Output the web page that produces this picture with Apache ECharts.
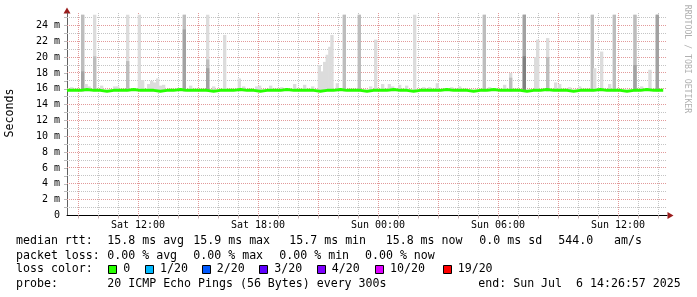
<!DOCTYPE html>
<html><head><meta charset="utf-8">
<script src="https://cdn.jsdelivr.net/npm/echarts@6/dist/echarts.min.js"></script>
<style>html,body{margin:0;padding:0;background:#fff}#c{width:697px;height:297px}</style>
</head><body><div id="c"></div>
<script>
// ---------------- DATA ----------------
// time axis: hours since Sat 00:00
const startHour = 8 + 26 / 60 + 57 / 3600;   // Sat 08:26:57
const endHour = startHour + 30;              // Sun 14:26:57
const xLabelHours = [12, 18, 24, 30, 36];
const xLabelTexts = ['Sat 12:00', 'Sat 18:00', 'Sun 00:00', 'Sun 06:00', 'Sun 12:00'];
const hourGrid = [9,10,11,12,13,14,15,16,17,18,19,20,21,22,23,24,25,26,27,28,29,30,31,32,33,34,35,36,37,38];
const yLabelValues = [0, 2, 4, 6, 8, 10, 12, 14, 16, 18, 20, 22, 24];
const msGrid = [1,2,3,4,5,6,7,8,9,10,11,12,13,14,15,16,17,18,19,20,21,22,23,24,25];
const yMax = 25.57;

// smoke (ping distribution) per 10-minute bin: start hour and top of each shade band (ms), 0 = none
const smokeHour   = [8.599, 9.149, 9.324, 9.474, 9.749, 10.099, 10.749, 10.899, 11.399, 11.984, 12.149, 12.449, 12.599, 12.749, 12.899, 13.049, 13.199, 14.234, 14.549, 15.399, 15.699, 16.249, 16.984, 17.2, 17.849, 17.999, 18.549, 19.099, 19.749, 20.249, 20.649, 20.984, 21.114, 21.249, 21.379, 21.509, 21.614, 21.884, 22.234, 22.984, 23.549, 23.799, 24.149, 24.484, 24.649, 24.999, 25.349, 25.749, 26.2, 26.5, 26.884, 27.6, 28.0, 29.234, 29.5, 30.249, 30.549, 31.234, 31.799, 31.9, 32.399, 32.8, 33.0, 33.5, 34.0, 34.634, 34.75, 35.099, 35.5, 35.734, 36.764, 37.1, 37.514, 37.884];
const smokeLight  = [16.2, 25.35, 16.6, 16.3, 25.35, 16.4, 16.3, 16.3, 25.35, 25.35, 17.1, 16.6, 17.0, 16.8, 17.3, 16.4, 16.5, 25.35, 16.4, 25.35, 16.3, 22.8, 17.3, 16.3, 16.3, 16.4, 16.4, 16.2, 16.6, 16.5, 16.3, 19.0, 18.2, 19.4, 20.3, 21.3, 22.8, 16.7, 25.35, 25.35, 16.3, 22.2, 16.6, 16.6, 16.3, 16.5, 16.4, 25.35, 16.2, 16.2, 16.7, 16.2, 16.3, 25.35, 16.2, 16.5, 18.0, 25.35, 20.0, 22.2, 22.4, 16.8, 16.6, 16.2, 16.3, 25.35, 18.6, 20.7, 16.6, 25.35, 25.35, 16.3, 18.4, 25.35];
const smokeMedium = [0, 25.35, 0, 0, 20.1, 0, 0, 0, 19.5, 0, 0, 0, 0, 0, 0, 0, 0, 25.35, 0, 19.7, 0, 0, 0, 0, 0, 0, 0, 0, 0, 0, 0, 0, 0, 0, 0, 0, 0, 0, 25.35, 25.35, 0, 0, 0, 0, 0, 0, 0, 0, 0, 0, 0, 0, 0, 25.35, 0, 0, 17.4, 25.35, 0, 0, 20.0, 0, 0, 0, 0, 25.35, 0, 0, 0, 25.35, 25.35, 0, 0, 25.35];
const smokeDark   = [0, 18.2, 0, 0, 0, 0, 0, 0, 0, 0, 0, 0, 0, 0, 0, 0, 0, 23.5, 0, 18.6, 0, 0, 0, 0, 0, 0, 0, 0, 0, 0, 0, 0, 0, 0, 0, 0, 0, 0, 0, 0, 0, 0, 0, 0, 0, 0, 0, 0, 0, 0, 0, 0, 0, 0, 0, 0, 0, 25.35, 0, 0, 0, 0, 0, 0, 0, 0, 0, 0, 0, 0, 19.0, 0, 0, 25.35];
const smokeDarker = [0, 0, 0, 0, 0, 0, 0, 0, 0, 0, 0, 0, 0, 0, 0, 0, 0, 0, 0, 0, 0, 0, 0, 0, 0, 0, 0, 0, 0, 0, 0, 0, 0, 0, 0, 0, 0, 0, 0, 0, 0, 0, 0, 0, 0, 0, 0, 0, 0, 0, 0, 0, 0, 0, 0, 0, 0, 20.1, 0, 0, 0, 0, 0, 0, 0, 0, 0, 0, 0, 0, 0, 0, 0, 0];
const smokeBase = 15.7;
const smokeBinHours = 1 / 6;

// median rtt, one value per 20 minutes from the start
const medianStepHours = 1 / 3;
const medianEndHour = 38.26;
const medianRtt = [15.8,15.8,15.9,15.8,15.8,15.7,15.8,15.8,15.8,15.9,
  15.8,15.8,15.8,15.7,15.8,15.8,15.9,15.8,15.8,15.8,
  15.8,15.7,15.8,15.8,15.8,15.9,15.8,15.8,15.7,15.8,
  15.8,15.8,15.9,15.8,15.8,15.8,15.8,15.7,15.8,15.8,
  15.9,15.8,15.8,15.8,15.7,15.8,15.8,15.8,15.9,15.8,
  15.8,15.7,15.8,15.8,15.8,15.8,15.9,15.8,15.8,15.8,
  15.7,15.8,15.8,15.9,15.8,15.8,15.8,15.8,15.7,15.8,
  15.8,15.9,15.8,15.8,15.8,15.7,15.8,15.8,15.8,15.9,
  15.8,15.8,15.8,15.7,15.8,15.8,15.9,15.8,15.8,15.8];

// legend texts
const row1Texts = ['median rtt:', '15.8 ms avg', '15.9 ms max', '15.7 ms min', '15.8 ms now', '0.0 ms sd', '544.0', 'am/s'];
const row2Texts = ['packet loss:', '0.00 % avg', '0.00 % max', '0.00 % min', '0.00 % now'];
const row3Title = 'loss color:';
const lossLabels = ['0', '1/20', '2/20', '3/20', '4/20', '10/20', '19/20'];
const row4Texts = ['probe:', '20 ICMP Echo Pings (56 Bytes) every 300s', 'end: Sun Jul  6 14:26:57 2025'];
const yAxisTitle = 'Seconds';
const watermark = 'RRDTOOL / TOBI OETIKER';

// ---------------- STYLE / LAYOUT ----------------
const MONO = "'DejaVu Sans Mono', monospace";
const lossColors = ['#26ff00', '#00b8ff', '#0059ff', '#5e00ff', '#7e00ff', '#dd00ff', '#ff0000'];
const smokeColors = ['#dcdcdc', '#bdbdbd', '#a2a2a2', '#808080'];
const majorGridColor = '#e29a9a';
const minorGridColor = '#c4c4c4';
const row1X = [16, 107.3, 193.3, 289.3, 385.7, 479.3, 558.3, 614];
const row2X = [16, 107.3, 193.3, 279.3, 365];
const boxX = [108.3, 145, 201.7, 259.3, 316.7, 375, 442.7];
const row4X = [16, 107.3, 478.3];
const rowY = [241, 255.7, 269, 283.7];
const LEG_FS = 11.6;

const smokeData = smokeHour.map((h, i) => [h, smokeLight[i], smokeMedium[i], smokeDark[i], smokeDarker[i]]);
const medianData = medianRtt.map((v, i) => [startHour + i * medianStepHours, v]);
medianData.push([medianEndHour, medianRtt[medianRtt.length - 1]]);

const graphics = [];
function txt(x, y, s, extra) {
  graphics.push(Object.assign({ type: 'text', x: x, y: y, silent: true,
    style: Object.assign({ text: s, font: LEG_FS + 'px ' + MONO, fill: '#000', textVerticalAlign: 'middle', textAlign: 'left' }, extra || {}) }));
}
row1Texts.forEach((s, i) => txt(row1X[i], rowY[0], s));
row2Texts.forEach((s, i) => txt(row2X[i], rowY[1], s));
txt(16, rowY[2], row3Title);
lossLabels.forEach((s, i) => {
  graphics.push({ type: 'rect', silent: true, shape: { x: Math.round(boxX[i]) + 0.5, y: Math.round(rowY[2] - 4.5) + 0.5, width: 8, height: 8 },
    style: { fill: lossColors[i], stroke: '#000', lineWidth: 1 } });
  txt(boxX[i] + 15, rowY[2], s);
});
row4Texts.forEach((s, i) => txt(row4X[i], rowY[3], s));
// axis title
graphics.push({ type: 'text', x: 10, y: 113, rotation: Math.PI / 2, silent: true,
  style: { text: yAxisTitle, font: '11.6px ' + MONO, fill: '#000', textAlign: 'center', textVerticalAlign: 'middle' } });
// watermark
graphics.push({ type: 'text', x: 687, y: 59, rotation: -Math.PI / 2, silent: true,
  style: { text: watermark, font: '8.2px ' + MONO, fill: '#b0b0b0', textAlign: 'center', textVerticalAlign: 'middle' } });
// axis arrows
graphics.push({ type: 'polygon', silent: true, shape: { points: [[63.5, 13.5], [70.5, 13.5], [67, 7.5]] }, style: { fill: '#9a1c1c' } });
graphics.push({ type: 'polygon', silent: true, shape: { points: [[667.5, 212], [667.5, 219], [673.5, 215.5]] }, style: { fill: '#9a1c1c' } });

function crisp(v) { return Math.round(v - 0.5) + 0.5; }

const chart = echarts.init(document.getElementById('c'), null, { renderer: 'canvas' });
chart.setOption({
  animation: false,
  backgroundColor: '#fff',
  grid: { left: 67, right: 30, top: 13, bottom: 81.5, containLabel: false },
  xAxis: {
    type: 'value', min: startHour, max: endHour,
    splitLine: { show: false },
    axisLine: { show: true, lineStyle: { color: '#000', width: 1 } },
    axisTick: { show: true, customValues: hourGrid, length: 3, lineStyle: { color: '#c8b0b0' } },
    axisLabel: { customValues: xLabelHours, margin: 5, fontFamily: MONO, fontSize: 10, color: '#000',
      formatter: v => { const i = xLabelHours.indexOf(Math.round(v)); return i >= 0 ? xLabelTexts[i] : ''; } }
  },
  yAxis: {
    type: 'value', min: 0, max: yMax,
    splitLine: { show: false },
    axisLine: { show: true, lineStyle: { color: '#606060', width: 1 } },
    axisTick: { show: true, customValues: msGrid, length: 3, lineStyle: { color: '#bbbbbb' } },
    axisLabel: { customValues: yLabelValues, margin: 7, fontFamily: MONO, fontSize: 10, color: '#000',
      formatter: v => v === 0 ? '0' : v + ' m' }
  },
  graphic: graphics,
  series: [
    { type: 'custom', z: 1, silent: true, clip: false,
      data: hourGrid.map(h => [h, 0]), encode: { x: 0, y: 1 },
      renderItem: (params, api) => {
        const h = api.value(0);
        const cs = params.coordSys;
        const x = crisp(api.coord([h, 0])[0]);
        return { type: 'line', shape: { x1: x, y1: cs.y, x2: x, y2: cs.y + cs.height },
          style: { stroke: h % 3 === 0 ? majorGridColor : minorGridColor, lineWidth: 1, lineDash: [1, 1] } };
      } },
    { type: 'custom', z: 1, silent: true, clip: false,
      data: msGrid.map(v => [startHour, v]), encode: { x: 0, y: 1 },
      renderItem: (params, api) => {
        const v = api.value(1);
        const cs = params.coordSys;
        const y = crisp(api.coord([startHour, v])[1]);
        return { type: 'line', shape: { x1: cs.x, y1: y, x2: cs.x + cs.width, y2: y },
          style: { stroke: v % 2 === 0 ? majorGridColor : minorGridColor, lineWidth: 1, lineDash: [1, 1] } };
      } },
    { type: 'custom', z: 2, silent: true, data: smokeData,
      encode: { x: 0, y: [1, 2, 3, 4] },
      renderItem: (params, api) => {
        const h = api.value(0);
        const children = [];
        for (let k = 0; k < 4; k++) {
          const top = api.value(k + 1);
          if (!(top > smokeBase)) continue;
          const p0 = api.coord([h, smokeBase]);
          const p1 = api.coord([h + smokeBinHours, top]);
          children.push({ type: 'rect', shape: { x: p0[0], y: p1[1], width: p1[0] - p0[0], height: p0[1] - p1[1] },
            style: { fill: smokeColors[k] } });
        }
        return { type: 'group', children: children };
      } },
    { type: 'line', z: 3, data: medianData, step: 'end', symbol: 'none', silent: true,
      lineStyle: { color: lossColors[0], width: 3 } }
  ]
});
</script></body></html>
